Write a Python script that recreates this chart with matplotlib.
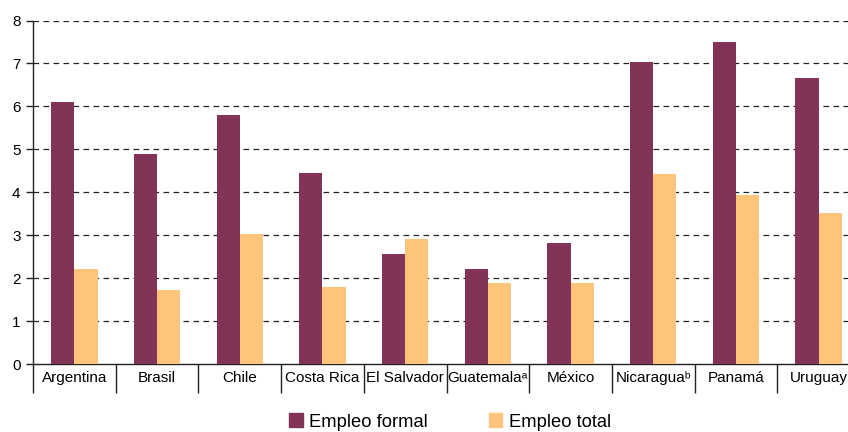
import matplotlib.pyplot as plt
import numpy as np
from matplotlib.patches import Patch

plt.rcParams["font.family"] = ["Liberation Sans", "DejaVu Sans"]

countries = ["Argentina", "Brasil", "Chile", "Costa Rica", "El Salvador",
             "Guatemala\u1d43", "México", "Nicaragua\u1d47", "Panamá", "Uruguay"]
empleo_formal = [6.10, 4.88, 5.80, 4.45, 2.56, 2.21, 2.82, 7.04, 7.51, 6.67]
empleo_total = [2.21, 1.72, 3.02, 1.79, 2.91, 1.89, 1.89, 4.43, 3.94, 3.52]

C_FORMAL = "#843358"
C_TOTAL = "#FEC47C"

fig = plt.figure(figsize=(8.48, 4.32), dpi=100)
ax = fig.add_axes([33 / 848, 1 - 364 / 432, 827 / 848, (364 - 20.5) / 432])

x = np.arange(len(countries))
w = 0.28
ax.bar(x - w / 2, empleo_formal, width=w, color=C_FORMAL, zorder=3)
ax.bar(x + w / 2, empleo_total, width=w, color=C_TOTAL, zorder=3)

ax.set_xlim(-0.5, len(countries) - 0.5)
ax.set_ylim(0, 8)
ax.set_yticks(range(0, 9))
for v in range(1, 9):
    ax.axhline(v, color="#222222", lw=0.9, ls=(0, (4.5, 3.5)), zorder=1)

for s in ["top", "right"]:
    ax.spines[s].set_visible(False)
for s in ["left", "bottom"]:
    ax.spines[s].set_linewidth(1.0)
    ax.spines[s].set_color("#222222")

ax.tick_params(axis="y", direction="out", length=5, width=1, labelsize=11,
               pad=4, color="#222222")
# category separators as ticks below the axis, labels in minor ticks
ax.set_xticks(np.arange(-0.5, len(countries), 1))
ax.set_xticklabels([])
ax.tick_params(axis="x", which="major", direction="out", length=21, width=1,
               color="#222222")
ax.set_xticks(x, minor=True)
ax.set_xticklabels(countries, minor=True, fontsize=11)
ax.tick_params(axis="x", which="minor", length=0, pad=5)

handles = [Patch(color=C_FORMAL, label="Empleo formal"),
           Patch(color=C_TOTAL, label="Empleo total")]
fig.legend(handles=handles, loc="center", bbox_to_anchor=(450 / 848, 1 - 422 / 432),
           ncol=2, frameon=False, fontsize=13.2, handlelength=0.75,
           handleheight=0.75, handletextpad=0.35, columnspacing=3.3)

fig.savefig("out.png", dpi=100)
